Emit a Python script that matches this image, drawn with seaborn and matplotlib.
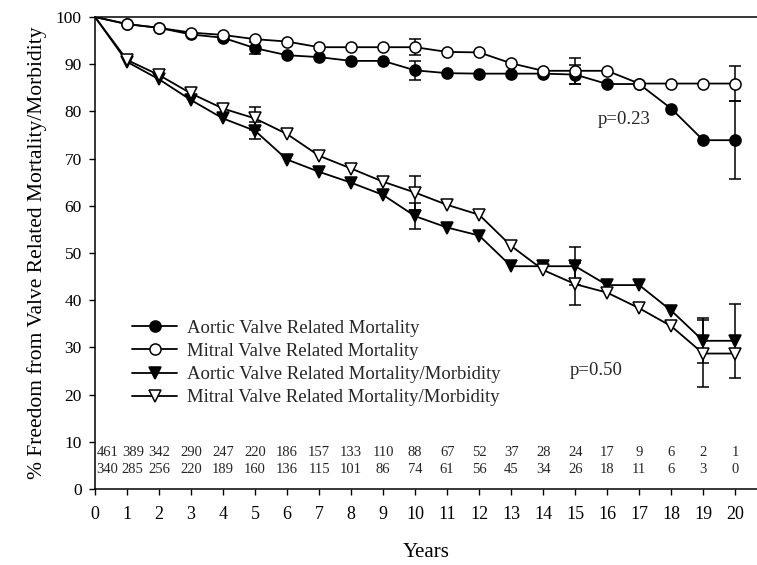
import numpy as np
import pandas as pd
import matplotlib
matplotlib.use("Agg")
import matplotlib.pyplot as plt
import seaborn as sns

years = list(range(0, 21))
aortic_mort = [100, 98.5, 97.7, 96.3, 95.6, 93.4, 91.9, 91.5, 90.7, 90.7, 88.7,
               88.1, 88.0, 88.0, 88.0, 87.8, 85.8, 85.8, 80.6, 73.9, 73.9]
mitral_mort = [100, 98.5, 97.7, 96.7, 96.2, 95.3, 94.8, 93.6, 93.6, 93.6, 93.6,
               92.6, 92.5, 90.2, 88.6, 88.6, 88.6, 85.9, 85.9, 85.9, 85.9]
aortic_morb = [100, 90.5, 86.8, 82.4, 78.5, 75.9, 69.8, 67.2, 64.9, 62.3, 57.8,
               55.4, 53.7, 47.2, 47.2, 47.2, 43.2, 43.2, 37.8, 31.4, 31.4]
mitral_morb = [100, 90.9, 87.7, 83.8, 80.6, 78.5, 75.2, 70.6, 67.9, 65.1, 62.8,
               60.2, 58.1, 51.5, 46.4, 43.4, 41.6, 38.3, 34.5, 28.7, 28.7]

# error bars (years, values, half-widths)
eb_aortic_mort = ([5, 10, 15, 20], [93.4, 88.7, 87.8, 73.9], [1.3, 2.0, 2.0, 8.3])
eb_mitral_mort = ([10, 15, 20], [93.6, 88.6, 85.9], [1.7, 2.8, 3.7])
eb_aortic_morb = ([5, 10, 15, 19, 20], [75.9, 57.8, 47.2, 31.4, 31.4], [1.8, 2.7, 4.0, 4.8, 7.9])
eb_mitral_morb = ([5, 10, 15, 19], [78.5, 62.8, 43.4, 28.7], [2.4, 3.6, 4.5, 7.0])

at_risk_aortic = [461, 389, 342, 290, 247, 220, 186, 157, 133, 110, 88, 67, 52, 37, 28, 24, 17, 9, 6, 2, 1]
at_risk_mitral = [340, 285, 256, 220, 189, 160, 136, 115, 101, 86, 74, 61, 56, 45, 34, 26, 18, 11, 6, 3, 0]

labels = ["Aortic Valve Related Mortality",
          "Mitral Valve Related Mortality",
          "Aortic Valve Related Mortality/Morbidity",
          "Mitral Valve Related Mortality/Morbidity"]

sns.set_theme(style="white")
plt.rcParams['font.family'] = ['Liberation Serif', 'DejaVu Serif']

fig = plt.figure(figsize=(7.57, 5.65), dpi=100)
ax = fig.add_axes([95 / 757, 1 - 489 / 565, 1 - 95 / 757, (489 - 17) / 565])

series = [
    (aortic_mort, 'o', 'black', 8, eb_aortic_mort),
    (mitral_mort, 'o', 'white', 8, eb_mitral_mort),
    (aortic_morb, 'v', 'black', 8.5, eb_aortic_morb),
    (mitral_morb, 'v', 'white', 8.5, eb_mitral_morb),
]

for (vals, mk, fc, ms, eb), lab in zip(series, labels):
    df = pd.DataFrame({"year": years, "value": vals})
    sns.lineplot(data=df, x="year", y="value", ax=ax, color="black", lw=1.3,
                 marker=mk, markersize=ms, markerfacecolor=fc,
                 markeredgecolor="black", markeredgewidth=1.1,
                 markevery=list(range(1, 21)), label=lab, zorder=3)
    ax.errorbar(eb[0], eb[1], yerr=eb[2], fmt='none', ecolor='black',
                elinewidth=1.1, capsize=4, capthick=1.1, zorder=2)

for i, (a, m) in enumerate(zip(at_risk_aortic, at_risk_mitral)):
    if i == 0:
        x, ha = 0.04, 'left'
    elif i == 1:
        x, ha = 1.18, 'center'
    else:
        x, ha = i, 'center'
    ax.text(x, 7.7, str(a), ha=ha, va='center', fontsize=10.5)
    ax.text(x, 4.1, str(m), ha=ha, va='center', fontsize=10.5)

ax.text(15.69, 78.2, "p=0.23", fontsize=13.5, ha='left', va='center')
ax.text(14.84, 25.2, "p=0.50", fontsize=13.5, ha='left', va='center')

ax.set_xlim(0, 20.68)
ax.set_ylim(0, 100)
ax.set_xticks(range(0, 21))
ax.set_yticks(range(0, 101, 10))
ax.tick_params(axis='both', direction='out', length=4.5, width=1, color='black',
               labelcolor='black', bottom=True, left=True)
ax.tick_params(axis='x', pad=8, labelsize=13)
ax.tick_params(axis='y', pad=5, labelsize=12.5)
for side in ['left', 'bottom', 'top']:
    ax.spines[side].set_color('black')
    ax.spines[side].set_linewidth(1.1)
ax.spines['right'].set_visible(False)

ax.set_xlabel("Years", fontsize=15, labelpad=14, color='black')
ax.set_ylabel("% Freedom from Valve Related Mortality/Morbidity", fontsize=15.5,
              labelpad=6, color='black')

leg = ax.legend(loc='center left', bbox_to_anchor=(1.16 / 20.68, 0.267), frameon=False,
                fontsize=13.5, handlelength=2.4, handletextpad=0.5,
                labelspacing=0.32, borderaxespad=0, borderpad=0)

fig.savefig("out.png", dpi=100)
